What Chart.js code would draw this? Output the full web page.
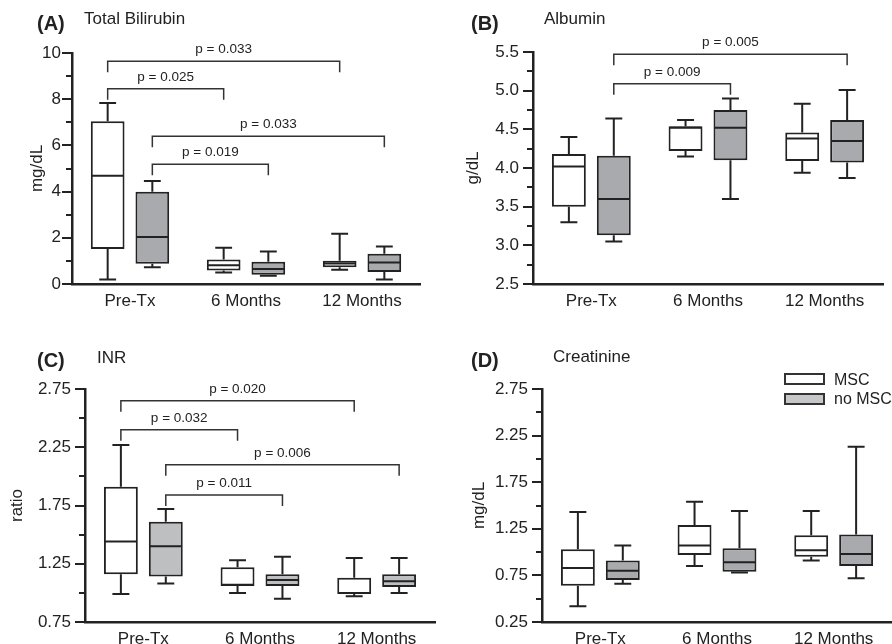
<!DOCTYPE html>
<html>
<head>
<meta charset="utf-8">
<script src="https://cdn.jsdelivr.net/npm/chart.js@4.4.1/dist/chart.umd.min.js"></script>
<style>
body { margin: 0; background: #fff; font-family: "Liberation Sans", Arial, sans-serif; color: #222; }
#wrap { position: relative; width: 892px; height: 644px; overflow: hidden; }
canvas { position: absolute; }
.lbl { position: absolute; line-height: 1; white-space: nowrap; }
.tag { font-weight: bold; font-size: 20px; }
.ttl { font-size: 17px; }
.key { position: absolute; width: 37px; height: 8px; border: 2px solid #333; }
.keytxt { position: absolute; font-size: 16px; line-height: 1; }
</style>
</head>
<body>
<div id="wrap">
  <canvas id="chartA" width="446" height="310" style="left:0;top:0"></canvas>
  <canvas id="chartB" width="446" height="310" style="left:446px;top:0"></canvas>
  <canvas id="chartC" width="446" height="334" style="left:0;top:310px"></canvas>
  <canvas id="chartD" width="446" height="334" style="left:446px;top:310px"></canvas>

  <div class="lbl tag" style="left:37px;top:13px">(A)</div>
  <div class="lbl ttl" style="left:84px;top:10px">Total Bilirubin</div>
  <div class="lbl tag" style="left:471px;top:13px">(B)</div>
  <div class="lbl ttl" style="left:544px;top:10px">Albumin</div>
  <div class="lbl tag" style="left:37px;top:350px">(C)</div>
  <div class="lbl ttl" style="left:97px;top:349px">INR</div>
  <div class="lbl tag" style="left:471px;top:350px">(D)</div>
  <div class="lbl ttl" style="left:553px;top:348px">Creatinine</div>

  <div class="key" style="left:784px;top:373px;background:#fff"></div>
  <div class="keytxt" style="left:834px;top:372px">MSC</div>
  <div class="key" style="left:784px;top:393px;background:#c6c7c9"></div>
  <div class="keytxt" style="left:834px;top:391px">no MSC</div>
</div>

<script>
const categories = ['Pre-Tx', '6 Months', '12 Months'];
const groups = ['MSC', 'no MSC'];

// one row per category: min, q1, median, q3, max
const bilirubinMSC   = [[0.19, 1.51, 4.69, 7.05, 7.84], [0.50, 0.58, 0.81, 1.06, 1.57], [0.62, 0.72, 0.89, 1.01, 2.17]];
const bilirubinNoMSC = [[0.72, 0.88, 2.04, 3.99, 4.46], [0.36, 0.40, 0.65, 0.96, 1.41], [0.19, 0.52, 0.93, 1.31, 1.62]];
const albuminMSC     = [[3.30, 3.50, 4.02, 4.18, 4.40], [4.15, 4.22, 4.52, 4.54, 4.62], [3.94, 4.09, 4.38, 4.46, 4.83]];
const albuminNoMSC   = [[3.05, 3.13, 3.60, 4.16, 4.64], [3.60, 4.10, 4.52, 4.75, 4.90], [3.87, 4.07, 4.35, 4.62, 5.01]];
const inrMSC         = [[0.99, 1.16, 1.44, 1.91, 2.27], [1.00, 1.06, 1.07, 1.22, 1.28], [0.97, 0.99, 1.00, 1.13, 1.30]];
const inrNoMSC       = [[1.08, 1.14, 1.40, 1.61, 1.72], [0.95, 1.06, 1.11, 1.16, 1.31], [1.00, 1.05, 1.10, 1.16, 1.30]];
const creatMSC       = [[0.42, 0.64, 0.83, 1.03, 1.43], [0.85, 0.97, 1.07, 1.29, 1.54], [0.91, 0.95, 1.02, 1.18, 1.44]];
const creatNoMSC     = [[0.66, 0.70, 0.80, 0.91, 1.07], [0.78, 0.79, 0.89, 1.04, 1.44], [0.72, 0.85, 0.98, 1.19, 2.13]];

// significance brackets: fromCategory, fromGroup, toCategory, toGroup, level, label
const bilirubinP = [[0, 0, 2, 0, 9.64, 'p = 0.033'], [0, 0, 1, 0, 8.45, 'p = 0.025'],
                    [0, 1, 2, 1, 6.40, 'p = 0.033'], [0, 1, 1, 1, 5.18, 'p = 0.019']];
const albuminP   = [[0, 1, 2, 1, 5.47, 'p = 0.005'], [0, 1, 1, 1, 5.09, 'p = 0.009']];
const inrP       = [[0, 0, 2, 0, 2.65, 'p = 0.020'], [0, 0, 1, 0, 2.40, 'p = 0.032'],
                    [0, 1, 2, 1, 2.10, 'p = 0.006'], [0, 1, 1, 1, 1.84, 'p = 0.011']];

const FONT = '"Liberation Sans", Arial, sans-serif';
const INK = '#222';
Chart.defaults.font.family = FONT;
Chart.defaults.color = INK;

// whiskers and median lines on top of the floating bars
const boxPlugin = {
    id: 'boxes',
    afterDatasetsDraw(chart) {
        const ctx = chart.ctx;
        const ys = chart.scales.y;
        const p = v => ys.getPixelForValue(v);
        ctx.save();
        ctx.strokeStyle = INK;
        ctx.lineWidth = 2;
        chart.data.datasets.forEach((ds, di) => {
            chart.getDatasetMeta(di).data.forEach((bar, i) => {
                const [mn, q1, md, q3, mx] = ds.stats[i];
                const x = bar.x, half = bar.width / 2, cap = bar.width / 4;
                ctx.beginPath();
                ctx.moveTo(x - half + 1, p(md)); ctx.lineTo(x + half - 1, p(md));
                ctx.moveTo(x, p(q3)); ctx.lineTo(x, p(mx));
                ctx.moveTo(x - cap, p(mx)); ctx.lineTo(x + cap, p(mx));
                ctx.moveTo(x, p(q1)); ctx.lineTo(x, p(mn));
                ctx.moveTo(x - cap, p(mn)); ctx.lineTo(x + cap, p(mn));
                ctx.stroke();
            });
        });
        ctx.restore();
    }
};

// tick marks (long at labelled values, short in between) and p-value brackets
const extrasPlugin = {
    id: 'extras',
    afterDraw(chart, args, opts) {
        const ctx = chart.ctx;
        const ys = chart.scales.y;
        const left = chart.chartArea.left;
        ctx.save();
        ctx.strokeStyle = INK;
        ctx.lineWidth = 2;
        ys.ticks.forEach(t => {
            const y = Math.round(ys.getPixelForValue(t.value));
            const len = opts.isMajor(t.value) ? 10 : 6;
            ctx.beginPath();
            ctx.moveTo(left - len, y);
            ctx.lineTo(left, y);
            ctx.stroke();
        });

        ctx.strokeStyle = '#333';
        ctx.lineWidth = 1.5;
        ctx.fillStyle = INK;
        ctx.font = '13.5px ' + FONT;
        ctx.textAlign = 'center';
        ctx.textBaseline = 'alphabetic';
        (opts.items || []).forEach(([c1, g1, c2, g2, level, label]) => {
            const x1 = chart.getDatasetMeta(g1).data[c1].x;
            const x2 = chart.getDatasetMeta(g2).data[c2].x;
            const y = ys.getPixelForValue(level);
            ctx.beginPath();
            ctx.moveTo(x1, y + 11);
            ctx.lineTo(x1, y);
            ctx.lineTo(x2, y);
            ctx.lineTo(x2, y + 11);
            ctx.stroke();
            ctx.fillText(label, (x1 + x2) / 2, y - 8);
        });
        ctx.restore();
    }
};

function makePanel(id, cfg) {
    const canvas = document.getElementById(id);
    const isMajor = v => {
        const k = (v - cfg.min) / cfg.major;
        return Math.abs(k - Math.round(k)) < 1e-6;
    };
    const padLeft = cfg.titleCenter - 10.2;
    const boxStyle = {
        borderColor: INK,
        borderWidth: 2,
        borderSkipped: false,
        barPercentage: 0.755,
        categoryPercentage: 0.77
    };
    return new Chart(canvas.getContext('2d'), {
        type: 'bar',
        data: {
            labels: categories,
            datasets: [
                Object.assign({
                    label: groups[0],
                    data: cfg.msc.map(r => [r[1], r[3]]),
                    stats: cfg.msc,
                    backgroundColor: '#ffffff'
                }, boxStyle),
                Object.assign({
                    label: groups[1],
                    data: cfg.noMsc.map(r => [r[1], r[3]]),
                    stats: cfg.noMsc,
                    backgroundColor: cfg.gray
                }, boxStyle)
            ]
        },
        options: {
            responsive: false,
            animation: false,
            layout: {
                padding: { left: padLeft, top: cfg.top, right: canvas.width - cfg.right, bottom: 0 }
            },
            plugins: {
                legend: { display: false },
                tooltip: { enabled: false },
                extras: { items: cfg.brackets, isMajor: isMajor }
            },
            scales: {
                x: {
                    grid: { display: false, drawTicks: false },
                    border: { display: true, color: INK, width: 2.5 },
                    ticks: { font: { size: 17 }, color: INK, padding: 7 },
                    afterFit: s => { s.height = canvas.height - cfg.bottom; }
                },
                y: {
                    min: cfg.min,
                    max: cfg.max,
                    grid: { drawOnChartArea: false, drawTicks: true, tickLength: 10, tickColor: 'rgba(0,0,0,0)' },
                    border: { display: true, color: INK, width: 2.5 },
                    ticks: {
                        stepSize: cfg.minor,
                        autoSkip: false,
                        padding: cfg.tickPad,
                        font: { size: 17 },
                        color: INK,
                        callback: v => isMajor(v) ? v.toFixed(cfg.decimals) : ''
                    },
                    title: { display: true, text: cfg.yTitle, font: { size: 17 }, color: INK, padding: 0 },
                    afterFit: s => { s.width = cfg.left - padLeft; }
                }
            }
        },
        plugins: [boxPlugin, extrasPlugin]
    });
}

makePanel('chartA', {
    msc: bilirubinMSC, noMsc: bilirubinNoMSC, brackets: bilirubinP, gray: '#a8aaad',
    min: 0, max: 10, minor: 1, major: 2, decimals: 0, yTitle: 'mg/dL',
    left: 72, top: 53, right: 420, bottom: 284, titleCenter: 37, tickPad: 1
});
makePanel('chartB', {
    msc: albuminMSC, noMsc: albuminNoMSC, brackets: albuminP, gray: '#a8aaad',
    min: 2.5, max: 5.5, minor: 0.25, major: 0.5, decimals: 1, yTitle: 'g/dL',
    left: 87, top: 52, right: 437, bottom: 284, titleCenter: 27, tickPad: 4
});
makePanel('chartC', {
    msc: inrMSC, noMsc: inrNoMSC, brackets: inrP, gray: '#bdbfc1',
    min: 0.75, max: 2.75, minor: 0.25, major: 0.5, decimals: 2, yTitle: 'ratio',
    left: 85, top: 79, right: 435, bottom: 312, titleCenter: 17, tickPad: 4
});
makePanel('chartD', {
    msc: creatMSC, noMsc: creatNoMSC, brackets: [], gray: '#a8aaad',
    min: 0.25, max: 2.75, minor: 0.25, major: 0.5, decimals: 2, yTitle: 'mg/dL',
    left: 96, top: 79, right: 446, bottom: 312, titleCenter: 33, tickPad: 4
});
</script>
</body>
</html>
